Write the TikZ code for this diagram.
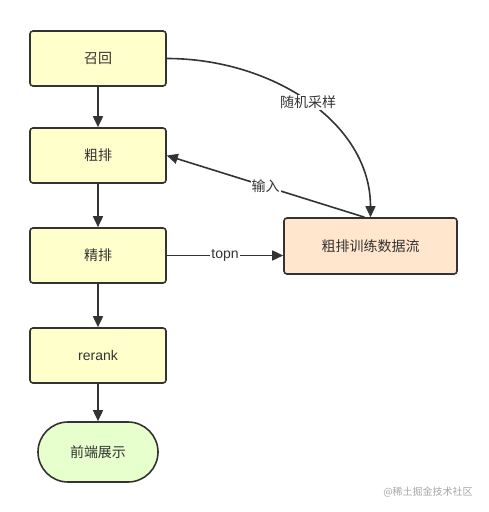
\documentclass[tikz,border=0pt]{standalone}
\usepackage{fontspec}
\setmainfont{Liberation Sans}
\newfontfamily\cjk{Noto Sans CJK SC}
\usetikzlibrary{arrows.meta,shapes.misc}
\definecolor{boxyellow}{HTML}{FFFFCC}
\definecolor{boxorange}{HTML}{FFE6CC}
\definecolor{boxgreen}{HTML}{E6FFCC}
\definecolor{edge}{HTML}{333333}
\begin{document}
\begin{tikzpicture}[x=1pt,y=-1pt,
  flowbox/.style={draw=edge,line width=1.6pt,rounded corners=3pt,fill=boxyellow,minimum width=136pt,minimum height=55pt,inner sep=0pt,font=\cjk\fontsize{14}{16}\selectfont,text=edge},
  databox/.style={flowbox,fill=boxorange,minimum width=173pt,minimum height=56pt},
  endbox/.style={draw=edge,line width=1.6pt,rounded rectangle,fill=boxgreen,minimum width=120pt,minimum height=60pt,inner sep=0pt,font=\cjk\fontsize{14}{16}\selectfont,text=edge},
  conn/.style={draw=edge,line width=1.6pt,-{Triangle[length=11pt,width=10pt]}},
  lbl/.style={fill=white,inner sep=1pt,font=\cjk\fontsize{14}{16}\selectfont,text=edge}
]
\useasboundingbox (0,0) rectangle (488,512);
\node[flowbox] (recall) at (98,58.5) {召回};
\node[flowbox] (coarse) at (98,155.5) {粗排};
\node[flowbox] (fine) at (98,255.5) {精排};
\node[flowbox,font=\fontsize{14}{16}\selectfont] (rerank) at (98,355.5) {rerank};
\node[endbox] (front) at (98,452) {前端展示};
\node[databox] (data) at (370.5,246) {粗排训练数据流};

\draw[conn] (recall) -- (coarse);
\draw[conn] (coarse) -- (fine);
\draw[conn] (fine) -- (rerank);
\draw[conn] (rerank) -- (front);

\draw[conn] (recall.east) .. controls +(105,0) and +(0,-95) .. node[lbl,pos=0.5] {随机采样} (data.north);
\draw[conn] ([xshift=-6pt]data.north) -- node[lbl,pos=0.5] {输入} (coarse.east);
\draw[conn] (fine.east) -- node[lbl,pos=0.5,font=\fontsize{14}{16}\selectfont] {topn} (fine.east -| data.west);

\node[font=\cjk\fontsize{10}{12}\selectfont,text=gray!70] (wm) at (428,492) {@稀土掘金技术社区};
\end{tikzpicture}
\end{document}
